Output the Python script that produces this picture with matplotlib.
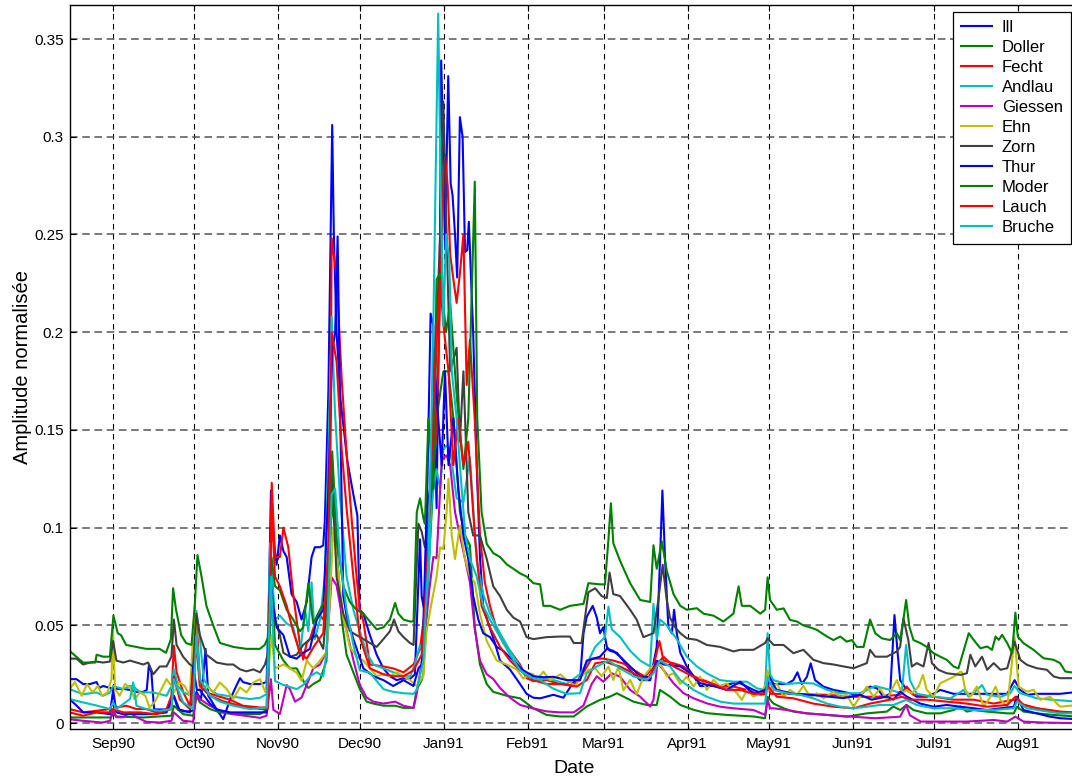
import numpy as np
import matplotlib
matplotlib.use('Agg')
import matplotlib.pyplot as plt
import matplotlib.dates as mdates
from matplotlib.ticker import MultipleLocator, FormatStrFormatter
from datetime import datetime

plt.rcParams['font.family'] = ['Liberation Sans', 'DejaVu Sans']

# (days after 1 Sep 1990, normalised amplitude)
ill = [(-16, .0225), (-13.4, .0225), (-11, .020), (-8.5, .020), (-6, .021), (-5, .018), (-3.6, .019), (-1, .018),
       (1.3, .0175), (3.8, .0175), (6.3, .017), (8.7, .016), (11.2, .016), (12.5, .017), (13.3, .030), (14.2, .026),
       (15.2, .007), (17.3, .007), (19.8, .007), (22.5, .014), (24, .007), (26, .006), (28.4, .006), (29.6, .0065),
       (30.8, .016), (32.5, .012), (34.2, .038), (35.2, .014), (38.3, .007), (40.7, .002), (43.2, .012), (45.5, .019),
       (46.9, .023), (48, .021), (50.6, .020), (54.3, .020), (56.7, .021), (57.5, .060), (58.3, .119), (59.2, .095),
       (60.4, .081), (61.6, .096), (62.9, .088), (64.1, .085), (65.9, .066), (67.8, .062), (69.6, .053), (71.5, .062),
       (73.3, .085), (74.5, .090), (76.4, .090), (77.6, .091), (78.2, .104), (79.5, .170), (80.9, .306), (81.5, .250),
       (82.5, .200), (84.0, .165), (86.5, .134), (88.7, .117), (90.2, .106), (91.0, .058), (92.4, .056), (94.8, .045),
       (97.3, .035), (99.8, .028), (102.2, .024), (104.7, .022), (107.2, .023), (109.6, .0226), (111.4, .025),
       (113.3, .094), (113.9, .065), (115.1, .056), (116.4, .150), (117.2, .2095), (118.2, .2035), (118.8, .145),
       (119.4, .110), (120.7, .250), (121.1, .339), (121.9, .293), (122.5, .2425), (123.7, .331), (124.6, .276),
       (125.3, .270), (126.2, .250), (127.0, .228), (128.0, .310), (129.0, .300), (129.9, .241), (130.7, .242),
       (131.3, .2565), (132.9, .200), (134.2, .132), (135.4, .085), (136.6, .060), (138.5, .051), (140.9, .041),
       (142.8, .032), (146.5, .0274), (150.2, .020), (152.6, .015), (155.1, .013), (157.6, .0127), (162.5, .0145),
       (166.2, .013), (169.9, .021), (172.3, .022), (173.6, .046), (174.8, .0545), (177.0, .060), (178.5, .054),
       (179.7, .046), (180.9, .049), (182.2, .039), (183.4, .037), (185.9, .036), (188.3, .032), (190.8, .027),
       (194.5, .022), (198.2, .022), (200.6, .039), (201.8, .083), (202.7, .119), (203.7, .083), (204.9, .049),
       (206.2, .046), (207.0, .058), (208.0, .046), (209.3, .036), (211.7, .029), (214.2, .024), (216.6, .019),
       (219.1, .019), (224.0, .019), (228.9, .0204), (231.4, .0204), (236.3, .017), (240.0, .015), (241.5, .026),
       (243.7, .020), (248.6, .020), (251.0, .022), (252.5, .026), (254.1, .020), (256.0, .0237), (257.4, .0306),
       (259.0, .022), (262.1, .0187), (265.8, .017), (269.5, .016), (272.6, .015), (275.6, .0135), (277.5, .017),
       (279.3, .0187), (281.8, .0179), (284.3, .0135), (286.7, .015), (288.3, .0553), (289.4, .037), (290.4, .022),
       (292.8, .017), (296.5, .0135), (300.2, .0135), (302.7, .015), (305.2, .017), (307.6, .016), (310.1, .015),
       (315.0, .015), (320.0, .015), (324.9, .015), (329.9, .015), (332.6, .022), (334.7, .017), (337.2, .0145),
       (340.8, .015), (344.5, .015), (349.4, .015), (356, .016)]

doller = [(-16, .0029), (-6, .0029), (-1, .0029), (0.1, .0046), (1.3, .0034), (11.2, .0029), (21.6, .0038),
          (22.5, .0089), (25.9, .0046), (29.6, .0038), (30.8, .014), (32.1, .0106), (35.8, .0072), (39.5, .0055),
          (44.4, .0046), (54.3, .0046), (57, .0072), (58.6, .075), (59.8, .040), (62.9, .032), (65.3, .028),
          (67.8, .028), (70.9, .020), (72.1, .018), (73.9, .020), (76.4, .022), (78.8, .032), (80.7, .115),
          (82.5, .090), (84.4, .053), (86.2, .035), (88.7, .026), (91.1, .0174), (93.6, .0110), (96.1, .0100),
          (99.8, .0089), (104.1, .0089), (107.2, .0078), (110.9, .0078), (112.1, .0174), (113.9, .022), (114.5, .025),
          (115.7, .060), (117.6, .108), (119.4, .156), (121.9, .180), (123.8, .180), (125.6, .156), (128.0, .108),
          (129.9, .096), (131.7, .091), (133.5, .049), (135.4, .030), (137.9, .020), (140.3, .016), (145.3, .014),
          (150.2, .0127), (155.1, .0076), (160.0, .0042), (165.0, .0034), (170.0, .0034), (174.8, .0085),
          (179.7, .0119), (183.4, .0136), (185.9, .0153), (188.3, .0136), (192.0, .0110), (196.9, .0093),
          (200.6, .0093), (201.8, .017), (205.5, .0136), (209.3, .0093), (214.2, .0068), (219.1, .0051),
          (226.4, .0042), (236.3, .0034), (240.6, .0025), (241.5, .0135), (243.7, .010), (247.4, .0076),
          (251.0, .0059), (256.0, .0050), (263.4, .0042), (270.7, .0033), (278.1, .005), (285.5, .0059),
          (287.9, .0085), (290.4, .0067), (292.8, .0093), (295.3, .0067), (300.2, .005), (305.2, .005),
          (307.6, .0059), (310.1, .0067), (312.6, .0085), (315.0, .0059), (317.5, .0067), (322.5, .0059),
          (329.9, .005), (332.3, .005), (333.5, .0084), (335.9, .0059), (340.8, .005), (347.0, .0042), (356, .0033)]

fecht = [(-16, .0072), (-11, .0055), (-6, .0063), (-1.1, .0072), (0.1, .0106), (1.3, .008), (5, .0089), (8.7, .0072),
         (12.3, .0072), (16, .0055), (19.8, .0072), (21.6, .014), (22.5, .0396), (23.5, .026), (25.9, .016),
         (28.4, .0089), (29.6, .010), (30.8, .055), (32.1, .022), (34.5, .0157), (38.3, .014), (43.2, .012),
         (48, .0089), (54.3, .0080), (57, .0080), (58.6, .123), (59.8, .085), (61.6, .085), (62.9, .100), (64.7, .090),
         (66.5, .066), (69.0, .040), (70.2, .0325), (71.5, .041), (72.7, .043), (74.5, .051), (75.8, .056),
         (77.6, .053), (78.8, .064), (80.1, .106), (80.7, .248), (82.5, .229), (84.4, .176), (86.2, .138),
         (88.1, .104), (89.9, .075), (91.1, .058), (92.4, .052), (94.8, .030), (99.8, .029), (103.4, .028),
         (107.2, .026), (110.9, .030), (113.3, .038), (115.7, .065), (117.5, .120), (119.4, .150), (121.9, .280),
         (122.5, .291), (123.5, .275), (124.4, .240), (125.6, .227), (126.8, .215), (128.0, .230), (129.3, .250),
         (130.5, .173), (131.7, .196), (133.5, .155), (135.4, .096), (137.2, .072), (139.1, .060), (141.6, .048),
         (144.0, .041), (146.5, .037), (150.2, .030), (152.6, .023), (155.1, .0215), (160, .022), (165, .020),
         (169.9, .019), (173.6, .026), (176.6, .033), (180.9, .033), (184.6, .032), (188.3, .0305), (192, .0273),
         (196.3, .0237), (199.4, .029), (201.6, .042), (203.1, .032), (206.8, .0306), (210.5, .0290), (214.2, .024),
         (219.1, .0213), (224.0, .0187), (228.9, .0187), (233.9, .017), (238.8, .0145), (241.0, .015), (241.5, .025),
         (242.4, .015), (248.6, .0149), (263.4, .0145), (272.6, .0135), (281.8, .0135), (290.4, .0145),
         (292.8, .0187), (295.3, .0145), (302.7, .0135), (310.1, .012), (317.5, .012), (324.9, .010), (332.3, .012),
         (334.7, .010), (340.8, .0076), (345.7, .0067), (349.4, .0059), (356, .0054)]

andlau = [(-16, .0174), (-11, .0148), (-6, .0157), (-3.6, .014), (-1.1, .0157), (0.1, .019), (3.8, .0174), (6.3, .019),
          (7.5, .019), (10, .0157), (14.9, .0157), (19.8, .0140), (21.6, .019), (22.5, .0276), (24, .019), (26, .0157),
          (29, .014), (30.8, .0575), (32, .045), (33.5, .0225), (35.8, .0174), (38.3, .0148), (42, .014), (46.9, .013),
          (50.6, .0123), (54.3, .013), (56.7, .0148), (58, .092), (59.8, .053), (61.6, .055), (64.1, .051),
          (66.5, .049), (69.0, .035), (70.9, .058), (72.1, .047), (73.3, .072), (74.5, .043), (76.4, .053),
          (78.2, .075), (79.5, .138), (80.7, .208), (81.9, .160), (83.7, .117), (86.2, .075), (88.7, .058),
          (91.1, .047), (93.6, .036), (96.1, .030), (99.8, .028), (103.4, .026), (107.2, .024), (109.6, .024),
          (111.4, .030), (113.3, .040), (114.5, .036), (115.7, .060), (116.4, .073), (117.6, .113), (119.4, .130),
          (120.7, .120), (121.9, .140), (123.1, .142), (124.4, .140), (126.8, .115), (129.3, .113), (131.7, .136),
          (134.2, .083), (136.6, .066), (139.1, .056), (142.8, .046), (146.5, .037), (150.2, .029), (152.6, .0237),
          (157.6, .023), (162.5, .022), (167.4, .020), (172.3, .025), (175.4, .032), (177.9, .039), (181.5, .044),
          (182.8, .0596), (184.0, .048), (187.1, .044), (190.8, .037), (194.5, .032), (198.2, .029), (199.4, .061),
          (200.6, .043), (201.8, .053), (204.3, .050), (208.0, .043), (211.7, .034), (215.4, .029), (219.1, .0255),
          (224.0, .022), (228.9, .0212), (233.9, .0212), (237.6, .0178), (240.6, .017), (241.5, .046), (242.4, .025),
          (243.7, .022), (248.6, .020), (253.5, .0206), (258.4, .0203), (263.4, .017), (268.3, .0153),
          (275.6, .0153), (281.2, .019), (286.7, .017), (291.0, .0153), (292.6, .040), (294.0, .022), (296.5, .015),
          (302.7, .0135), (309.0, .0127), (313.8, .0170), (315.7, .0135), (317.5, .0153), (320.6, .0195),
          (322.5, .0145), (327.4, .0135), (331.0, .0153), (332.6, .019), (334.7, .0153), (340.8, .0127),
          (347.0, .0119), (356, .011)]

giessen = [(-16, .002), (-11, .0012), (-4, .0003), (-1, .0012), (0.1, .007), (1.3, .003), (3.8, .003), (6.3, .0055),
           (8.7, .003), (12.3, .0007), (17.3, .0003), (21.6, .0012), (22.5, .0055), (25.9, .0012), (29.6, .0007),
           (30.8, .0148), (32.1, .0123), (35.8, .0089), (39.5, .0063), (44.4, .0046), (50.6, .0034), (54.3, .0027),
           (56.7, .0038), (58.3, .0225), (59.2, .0068), (61.6, .0047), (64.1, .0195), (65.3, .0174), (67.2, .0110),
           (69.6, .0131), (72.1, .0216), (73.9, .0280), (76.4, .030), (78.8, .0365), (80.7, .0746), (82.5, .0705),
           (84.4, .056), (86.2, .0475), (88.7, .0322), (91.1, .0195), (93.6, .0131), (96.1, .0110), (99.8, .0100),
           (104.1, .0110), (107.2, .0089), (110.9, .0078), (112.1, .0153), (114.5, .036), (116.7, .068),
           (118.2, .085), (119.4, .0845), (121.3, .1345), (123.1, .137), (124.4, .132), (126.2, .108), (128.0, .096),
           (129.9, .084), (131.7, .072), (133.5, .048), (135.4, .032), (137.9, .025), (140.3, .0226), (142.8, .018),
           (146.5, .013), (150.2, .0093), (155.1, .0075), (160.0, .006), (165.0, .0055), (170, .0055), (173.6, .009),
           (176.6, .020), (178.5, .024), (180.9, .0212), (184.0, .0255), (187.1, .0238), (190.8, .0170),
           (194.5, .0135), (198.2, .0085), (199.4, .0119), (200.9, .031), (203.1, .0272), (206.8, .0204),
           (210.5, .0153), (214.2, .0127), (219.1, .0101), (224.0, .0084), (228.9, .0076), (236.3, .0067),
           (240.6, .0042), (241.5, .012), (242.4, .0076), (243.7, .0076), (248.6, .0067), (256.0, .005),
           (263.4, .0042), (272.6, .0033), (281.2, .0025), (290.4, .0033), (292.6, .0093), (294.0, .004),
           (298, .0008), (305, .0008), (315, .0008), (324.9, .0016), (329.9, .0008), (332.9, .0033), (335.9, .0008),
           (343, .0003), (356, .0)]

ehn = [(-16, .0174), (-14, .021), (-11.5, .0140), (-9.5, .020), (-7.5, .0157), (-5.5, .019), (-4, .014), (-2, .0157),
       (-0.5, .0225), (0, .048), (0.8, .0174), (2.5, .014), (4.5, .020), (6.3, .0183), (8, .0123), (10, .0157),
       (12, .0140), (13.5, .0080), (15.5, .011), (17.3, .0157), (19.8, .0225), (21.6, .019), (22.5, .0157),
       (24.5, .0208), (26.5, .019), (28.4, .0140), (30.2, .060), (32.1, .0174), (34.5, .019), (37, .0157),
       (39.5, .0208), (42, .0174), (44.4, .0123), (46.9, .0183), (49.3, .0157), (51.8, .0208), (54.3, .0225),
       (56.3, .0157), (57.5, .029), (58.5, .045), (59.8, .028), (62.9, .030), (65.3, .028), (67.8, .0258),
       (69.6, .0216), (71.5, .032), (73.9, .028), (76.4, .032), (78.8, .0365), (80.1, .064), (81.3, .100),
       (82.5, .085), (85.0, .054), (87.4, .039), (89.9, .034), (92.4, .032), (94.8, .028), (97.3, .024), (99.8, .025),
       (102.2, .024), (104.7, .026), (107.2, .024), (109.6, .022), (112.1, .019), (114.5, .024), (115.7, .047),
       (117.6, .062), (119.4, .075), (120.7, .090), (121.9, .089), (123.1, .108), (123.8, .125), (125.0, .096),
       (126.2, .084), (128.0, .101), (129.9, .084), (131.7, .075), (133.5, .072), (135.4, .056), (137.9, .042),
       (141.6, .032), (145.3, .030), (149.0, .0274), (151.4, .0227), (153.9, .0255), (155.1, .025), (156.3, .0220),
       (158.8, .0263), (161.3, .0220), (163.7, .0238), (165.0, .025), (167.4, .0221), (170.5, .019), (172.9, .024),
       (175.4, .0272), (177.9, .0280), (180.3, .024), (182.8, .0289), (184.6, .0221), (186.5, .0289),
       (188.3, .0168), (190.8, .0221), (193.2, .0148), (195.7, .0236), (198.2, .0280), (200.6, .0306),
       (202.5, .0289), (204.3, .024), (206.8, .0255), (209.3, .020), (211.7, .0238), (214.2, .0187), (216.6, .0238),
       (219.1, .0170), (221.5, .0221), (224.0, .0187), (226.4, .0204), (230.2, .0153), (232.0, .0119),
       (233.9, .0170), (236.3, .0136), (238.8, .0153), (241.0, .020), (241.5, .027), (242.4, .017), (244.9, .0203),
       (247.4, .0135), (249.8, .017), (252.3, .0145), (254.7, .019), (257.2, .0135), (259.7, .0153), (262.1, .0127),
       (265.8, .0160), (268.3, .0135), (270.7, .0145), (273.2, .0084), (275.6, .0135), (278.1, .0187),
       (280.6, .0135), (283.0, .0178), (285.5, .0119), (287.9, .0187), (289.2, .0220), (291.0, .0153),
       (292.8, .017), (294.7, .0153), (297.2, .0187), (298.8, .0247), (300.2, .017), (302.7, .0135), (305.2, .0204),
       (307.6, .0220), (310.1, .0237), (312.6, .0263), (313.2, .026), (314.4, .0170), (316.3, .0135),
       (318.7, .0187), (321.2, .0084), (323.7, .0135), (325.6, .0187), (327.4, .0119), (329.9, .0084),
       (332.6, .044), (334.1, .0187), (337.2, .0161), (339.6, .017), (342.1, .0119), (345.7, .0135), (349.4, .0084),
       (356, .0093)]

zorn = [(-16, .033), (-13.4, .033), (-11, .030), (-8.5, .031), (-6, .0315), (-3.6, .031), (-1.1, .0315), (0.1, .042),
        (1.3, .032), (3.8, .031), (6.3, .032), (8.7, .031), (11.2, .030), (13, .031), (14.9, .025), (17.3, .029),
        (19.8, .029), (21.6, .034), (22.5, .053), (23.5, .040), (25.9, .034), (28.4, .030), (29.6, .029),
        (30.8, .056), (32.1, .045), (34.5, .035), (38.3, .031), (42, .030), (44.4, .030), (46.9, .0275),
        (49.3, .0265), (51.8, .0275), (54.3, .026), (56.1, .030), (57.3, .036), (58.3, .060), (59.8, .053),
        (61.6, .045), (62.9, .036), (65.3, .034), (67.8, .035), (70.2, .040), (72.7, .043), (75.2, .045),
        (77.6, .038), (79.5, .070), (80.9, .128), (82.5, .075), (85.0, .056), (87.4, .047), (89.9, .045),
        (92.4, .043), (94.8, .041), (97.3, .039), (99.8, .043), (102.2, .047), (103.7, .053), (105.3, .047),
        (107.2, .044), (109.6, .041), (110.9, .040), (112.7, .102), (113.9, .098), (115.1, .090), (116.4, .102),
        (118.2, .130), (119.4, .200), (120.7, .250), (121.9, .318), (123.1, .250), (124.4, .180), (126.8, .192),
        (128.0, .144), (129.3, .180), (131.1, .108), (132.9, .096), (135.4, .096), (137.9, .084), (140.3, .070),
        (142.8, .065), (145.3, .058), (147.7, .054), (150.2, .052), (152.6, .044), (155.1, .043), (160.0, .044),
        (165.0, .0443), (168.6, .0443), (170, .041), (172.9, .041), (175.4, .067), (177.9, .069), (180.3, .065),
        (182.2, .064), (183.2, .077), (184.6, .066), (187.1, .065), (190.8, .058), (193.2, .053), (195.7, .044),
        (199.4, .046), (201.2, .063), (202.8, .081), (204.3, .063), (205.5, .054), (207.4, .049), (209.3, .046),
        (211.7, .0434), (215.4, .0426), (219.1, .040), (224.0, .039), (228.9, .0367), (231.4, .0375),
        (236.3, .0375), (240.6, .041), (241.5, .0434), (243.7, .040), (247.4, .040), (251.0, .0358),
        (254.7, .0375), (258.4, .0324), (262.1, .0307), (265.8, .030), (269.5, .0290), (273.2, .0281),
        (278.1, .0307), (279.3, .0375), (281.2, .034), (285.5, .034), (289.2, .0367), (290.4, .039),
        (291.6, .0536), (293.4, .0426), (294.7, .0289), (296.5, .0307), (299.0, .029), (300.9, .041),
        (302.1, .0307), (304.5, .0273), (307.6, .0255), (312.6, .0247), (315.0, .0255), (316.3, .035),
        (318.1, .0290), (320.6, .034), (322.5, .0273), (324.9, .0307), (327.4, .0273), (329.9, .0281),
        (332.6, .0417), (334.7, .0324), (337.2, .0298), (340.8, .0281), (344.5, .0273), (347.0, .0239),
        (349.4, .0230), (356, .023)]

thur = [(-16, .0123), (-13.4, .009), (-10.9, .0055), (-6, .0055), (-1.1, .0046), (0.1, .017), (1.3, .0055),
        (3.8, .0046), (8.7, .0046), (14.9, .0046), (19.8, .0055), (22.5, .014), (24.5, .007), (28.4, .0055),
        (29.6, .029), (31, .017), (32.1, .017), (35.8, .010), (38.3, .007), (43.2, .0055), (50.6, .0055),
        (56.7, .0055), (58, .075), (59.2, .060), (60.4, .049), (62.9, .045), (65.3, .034), (67.8, .033),
        (70.2, .036), (72.7, .038), (75.2, .053), (77.6, .058), (79.5, .120), (80.9, .190), (82.0, .200),
        (82.9, .249), (83.7, .170), (85.0, .065), (86.2, .055), (88.7, .043), (92.4, .028), (96.1, .024),
        (99.8, .022), (103.4, .019), (107.2, .022), (110.9, .019), (112.7, .028), (113.9, .030), (114.5, .049),
        (115.7, .108), (117.0, .120), (118.8, .180), (120.0, .156), (121.3, .132), (122.5, .180), (123.8, .132),
        (125.6, .156), (127.4, .120), (129.3, .096), (131.1, .084), (132.9, .065), (134.8, .053), (136.6, .046),
        (139.1, .044), (141.6, .039), (144.0, .037), (147.7, .032), (151.4, .027), (155.1, .024), (158.8, .0235),
        (162.5, .0237), (167.4, .0220), (172.3, .022), (174.8, .032), (179.7, .034), (182.2, .038), (184.6, .037),
        (187.1, .034), (190.8, .029), (194.5, .024), (198.2, .0235), (200.6, .032), (203.1, .030), (205.5, .0297),
        (209.3, .029), (213.0, .0255), (216.6, .0204), (221.5, .019), (226.4, .017), (231.4, .0212), (236.3, .015),
        (240.6, .0170), (242.4, .022), (244.9, .017), (251.0, .015), (257.2, .0145), (263.4, .0136),
        (269.5, .0128), (275.6, .0145), (279.9, .012), (285.5, .0136), (287.9, .012), (290.4, .0161),
        (292.8, .0136), (297.8, .010), (302.7, .0084), (307.6, .0093), (312.6, .0084), (317.5, .0076),
        (322.5, .0067), (327.4, .0076), (332.3, .0084), (333.5, .0136), (335.9, .0067), (340.8, .005),
        (345.7, .0033), (349.4, .0025), (356, .002)]

moder = [(-16, .037), (-11, .031), (-8.5, .031), (-6.5, .031), (-6, .035), (-3.6, .034), (-1.1, .034), (0.2, .055),
         (1.8, .046), (3.0, .045), (4.9, .040), (8.6, .039), (12.3, .038), (17.2, .038), (19.6, .036), (21.4, .043),
         (22.2, .069), (23.3, .058), (25.2, .045), (27.0, .041), (29.0, .040), (30.2, .060), (31.2, .086),
         (32.7, .075), (34.5, .060), (37.0, .050), (39.5, .041), (44.4, .039), (49.3, .038), (54.2, .038),
         (56.0, .040), (57.3, .044), (58.5, .085), (59.8, .070), (61.6, .068), (64.1, .058), (66.5, .053),
         (69.0, .047), (70.2, .049), (72.1, .0714), (73.9, .051), (76.4, .058), (78.8, .064), (80.9, .139),
         (82.5, .096), (85.0, .070), (87.4, .062), (89.9, .058), (92.4, .056), (94.8, .052), (97.3, .048),
         (99.8, .049), (102.2, .053), (104.1, .0615), (105.3, .056), (107.2, .053), (109.6, .052), (110.9, .052),
         (112.1, .108), (113.3, .115), (114.5, .105), (115.1, .102), (116.4, .156), (118.2, .120), (119.4, .227),
         (120.7, .230), (122.9, .200), (124.4, .215), (126.8, .168), (129.3, .130), (131.1, .156), (133.5, .277),
         (134.4, .156), (136.0, .108), (137.9, .0917), (140.3, .087), (142.8, .085), (145.3, .0812), (147.7, .079),
         (150.2, .0766), (152.6, .075), (155.1, .0716), (157.6, .071), (158.8, .060), (161.3, .060), (165.0, .058),
         (168.6, .060), (173.6, .061), (175.4, .0716), (179.7, .071), (181.5, .071), (182.8, .094), (183.7, .1125),
         (184.6, .092), (187.1, .083), (190.8, .0716), (194.5, .063), (198.2, .062), (199.4, .091), (200.6, .079),
         (202.5, .093), (204.3, .078), (206.8, .066), (209.3, .060), (211.7, .058), (215.4, .0588), (217.9, .056),
         (221.5, .055), (225.2, .052), (228.9, .056), (230.8, .070), (232.0, .060), (235.1, .060), (238.8, .056),
         (240.6, .058), (241.5, .0746), (242.4, .063), (244.9, .058), (247.4, .0587), (249.8, .0528), (252.3, .052),
         (254.7, .050), (257.2, .049), (259.7, .0477), (263.4, .0443), (265.8, .0425), (268.3, .0443),
         (270.7, .0417), (272.6, .0425), (274.4, .039), (276.9, .039), (279.3, .053), (281.2, .046), (283.6, .0434),
         (286.7, .0425), (289.2, .046), (290.4, .0425), (291.6, .053), (292.6, .063), (293.8, .0494),
         (295.3, .0425), (297.8, .041), (300.2, .039), (302.7, .0358), (305.2, .034), (307.6, .0324), (310.1, .029),
         (311.9, .028), (313.8, .037), (315.7, .046), (317.5, .0426), (320.0, .0383), (322.5, .0392),
         (324.3, .0375), (325.6, .0443), (326.8, .0426), (328.0, .0452), (329.9, .0409), (331.7, .0358),
         (332.9, .0565), (333.8, .0443), (335.9, .0409), (339.6, .0375), (343.3, .0332), (347.0, .0324),
         (349.4, .0307), (351.3, .0264), (356, .0255)]

lauch = [(-16, .0055), (-11, .0038), (-6, .0055), (-1.1, .0055), (0.1, .0072), (3.8, .0055), (10, .0055), (16, .0046),
         (21.6, .0072), (22.5, .024), (24.7, .012), (28.4, .0072), (30.8, .0395), (32.1, .019), (35.8, .014),
         (41, .011), (46.9, .0089), (54.3, .0072), (57, .0072), (58.6, .110), (59.8, .075), (61.6, .070),
         (64.1, .060), (66.5, .047), (69.0, .036), (71.5, .033), (74.5, .040), (77.6, .046), (79.5, .090),
         (80.7, .200), (82.5, .185), (84.4, .140), (86.2, .110), (88.7, .075), (91.1, .044), (94.8, .028),
         (99.8, .025), (103.4, .024), (107.2, .024), (110.9, .027), (113.9, .035), (115.1, .059), (116.4, .095),
         (118.8, .181), (120.7, .227), (121.9, .204), (123.8, .180), (125.6, .132), (127.4, .156), (129.3, .132),
         (131.1, .144), (133.5, .096), (136.0, .060), (139.1, .049), (142.8, .039), (146.5, .032), (150.2, .027),
         (155.1, .022), (160, .020), (166.2, .020), (171.1, .0187), (174.8, .022), (177.9, .0306), (181.5, .0314),
         (187.1, .0289), (192, .0255), (196.9, .022), (200.6, .030), (203.1, .034), (206.8, .029), (211.7, .0255),
         (216.6, .022), (221.5, .020), (226.4, .017), (231.4, .017), (236.3, .015), (240.6, .0152), (241.5, .019),
         (244.9, .0135), (251.0, .0127), (258.4, .010), (265.8, .0084), (273.2, .0076), (279.3, .010),
         (286.7, .012), (291.0, .0135), (294.0, .012), (300.2, .012), (307.6, .011), (315.0, .010), (322.5, .0084),
         (329.9, .0093), (332.9, .0135), (335.9, .0093), (340.8, .0076), (347.0, .0059), (356, .005)]

bruche = [(-16, .0123), (-11, .0106), (-6, .009), (-1.1, .0072), (0.1, .0106), (1.3, .0072), (6.3, .0123),
          (7.5, .0208), (8.7, .0089), (12.3, .0072), (17.3, .0063), (21.6, .0072), (22.5, .0225), (25.9, .0106),
          (29.6, .0072), (30.8, .0447), (32.1, .0225), (35.8, .0140), (39.5, .011), (44.4, .0089), (50.6, .0072),
          (56.7, .0080), (58.3, .075), (59.8, .0216), (62.9, .0195), (65.3, .0185), (67.8, .0174), (70.2, .0195),
          (72.7, .024), (75.2, .026), (77.6, .024), (78.8, .036), (80.7, .117), (82.0, .120), (83.7, .085),
          (86.2, .058), (88.7, .040), (91.1, .027), (94.8, .0258), (97.3, .0216), (99.8, .0174), (103.4, .016),
          (107.2, .0153), (110.9, .015), (112.1, .017), (114.5, .032), (116.4, .084), (118.2, .203), (120.0, .363),
          (120.9, .275), (121.9, .203), (122.9, .250), (124.1, .237), (125.0, .180), (126.8, .156), (128.0, .132),
          (130.0, .096), (131.7, .084), (134.2, .075), (136.6, .060), (139.1, .053), (142.8, .044), (146.5, .035),
          (150.2, .027), (153.9, .0235), (157.6, .0220), (162.5, .0176), (167.4, .015), (172.3, .0153),
          (174.8, .0255), (178.5, .029), (182.8, .032), (187.1, .028), (192.0, .024), (196.9, .0220), (199.4, .0255),
          (201.8, .032), (205.5, .0290), (209.3, .022), (214.2, .017), (219.1, .0135), (224.0, .011), (228.9, .010),
          (236.3, .010), (240.6, .010), (241.5, .0237), (243.7, .0170), (248.6, .0153), (253.5, .0145),
          (258.4, .0127), (263.4, .010), (268.3, .0084), (273.2, .0076), (278.1, .0084), (283.0, .0093),
          (287.9, .0093), (292.6, .0119), (296.5, .0093), (302.7, .0076), (310.1, .0076), (317.5, .0067),
          (324.9, .0067), (332.3, .0076), (333.5, .011), (337.2, .0076), (344.5, .006), (349.4, .005), (356, .005)]

names = ['Ill', 'Doller', 'Fecht', 'Andlau', 'Giessen', 'Ehn', 'Zorn', 'Thur', 'Moder', 'Lauch', 'Bruche']
rivers = [ill, doller, fecht, andlau, giessen, ehn, zorn, thur, moder, lauch, bruche]
colors = ['#0000ff', '#008000', '#ff0000', '#00bfbf', '#bf00bf', '#bfbf00', '#404040',
          '#0000ff', '#008000', '#ff0000', '#00bfbf']

t0 = mdates.date2num(datetime(1990, 9, 1))

fig = plt.figure(figsize=(10.72, 7.81), dpi=100)
ax = fig.add_axes([69.5 / 1072, 52 / 781, 1008.5 / 1072, 724 / 781])

for name, pts, col in zip(names, rivers, colors):
    pts = sorted(pts)
    d = np.array([p[0] for p in pts])
    v = np.array([p[1] for p in pts])
    ax.plot(t0 + d, v, color=col, lw=1.5, label=name)

ax.set_xlim(t0 - 16, t0 + 356)
ax.set_ylim(-0.003, 0.3674)
ax.xaxis.set_major_locator(mdates.MonthLocator())
ax.xaxis.set_major_formatter(mdates.DateFormatter('%b%y'))
ax.yaxis.set_major_locator(MultipleLocator(0.05))
ax.yaxis.set_major_formatter(FormatStrFormatter('%g'))

ax.set_axisbelow(True)
ax.xaxis.grid(True, color='black', ls=(0, (5, 4)), lw=0.8)
ax.yaxis.grid(True, color='#555555', ls=(0, (5, 3)), lw=1.1)
ax.tick_params(direction='in', length=4, labelsize=11, top=True, right=True)
ax.tick_params(axis='x', pad=6)
ax.tick_params(axis='y', pad=4)
for s in ax.spines.values():
    s.set_linewidth(1.0)

ax.set_xlabel('Date', fontsize=14, labelpad=6)
ax.set_ylabel('Amplitude normalisée', fontsize=14.5, labelpad=2)

leg = ax.legend(loc='upper right', fontsize=12, fancybox=False, edgecolor='black', framealpha=1,
                borderaxespad=0.42, handlelength=1.86, handletextpad=0.56, labelspacing=0.3, borderpad=0.5)
leg.get_frame().set_linewidth(0.9)

fig.savefig('out.png', dpi=100)
